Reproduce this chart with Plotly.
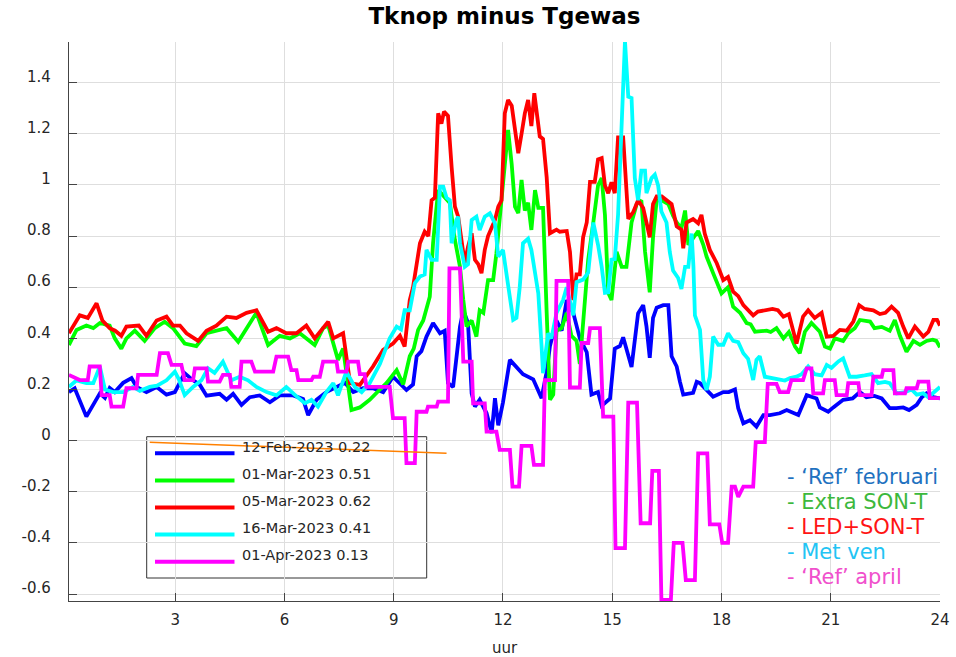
import plotly.graph_objects as go

# ---------------- data (hour of day, Tknop - Tgewas) ----------------
blue_x = [0.08,0.24,0.56,0.74,0.93,1.07,1.2,1.34,1.57,1.8,1.94,2.21,2.49,2.76,2.99,3.26,3.49,3.67,3.86,4.22,4.41,4.59,4.82,5.05,5.32,5.6,5.87,6.24,6.51,6.65,6.88,7.15,7.43,7.66,7.89,8.16,8.43,8.71,8.98,9.35,9.53,9.63,9.76,9.9,10.08,10.27,10.4,10.49,10.63,10.82,10.91,11.04,11.14,11.23,11.36,11.55,11.69,11.78,11.87,12.0,12.19,12.37,12.55,12.83,13.06,13.2,13.29,13.47,13.61,13.75,13.93,14.11,14.3,14.43,14.61,14.71,14.94,15.07,15.21,15.3,15.53,15.71,15.85,15.94,16.03,16.12,16.22,16.4,16.54,16.63,16.77,16.86,16.95,17.22,17.32,17.41,17.59,17.77,18.05,18.2,18.37,18.46,18.6,18.78,18.96,19.15,19.33,19.6,19.79,19.95,20.11,20.34,20.61,20.7,20.93,21.07,21.34,21.6,21.8,21.98,22.2,22.4,22.62,22.8,22.99,23.15,23.36,23.5,23.63,23.82,24.0]
blue_y = [0.19,0.205,0.094,0.14,0.185,0.167,0.206,0.19,0.226,0.245,0.21,0.19,0.21,0.18,0.19,0.264,0.236,0.22,0.176,0.183,0.16,0.183,0.14,0.17,0.177,0.15,0.177,0.177,0.163,0.10,0.16,0.19,0.21,0.226,0.19,0.205,0.205,0.19,0.25,0.198,0.22,0.33,0.35,0.407,0.46,0.42,0.43,0.225,0.21,0.446,0.51,0.46,0.185,0.133,0.16,0.107,0.03,0.166,0.06,0.15,0.316,0.29,0.26,0.24,0.166,0.27,0.37,0.47,0.43,0.55,0.5,0.40,0.346,0.18,0.19,0.136,0.165,0.36,0.37,0.404,0.288,0.498,0.53,0.447,0.324,0.48,0.52,0.53,0.53,0.33,0.29,0.23,0.18,0.187,0.23,0.225,0.2,0.172,0.19,0.19,0.2,0.127,0.068,0.08,0.055,0.1,0.1,0.107,0.12,0.11,0.1,0.178,0.165,0.13,0.113,0.13,0.16,0.165,0.19,0.17,0.175,0.165,0.127,0.127,0.13,0.12,0.14,0.17,0.185,0.17,0.165]

green_x = [0.08,0.29,0.56,0.75,0.93,1.2,1.34,1.52,1.66,1.89,2.16,2.44,2.71,2.94,3.26,3.58,3.86,4.13,4.41,4.73,4.96,5.23,5.55,5.87,6.15,6.42,6.83,7.06,7.2,7.47,7.61,7.84,8.07,8.34,8.62,8.8,9.08,9.26,9.44,9.55,9.67,9.81,9.99,10.08,10.22,10.36,10.54,10.68,10.82,10.91,11.0,11.14,11.27,11.36,11.46,11.59,11.73,11.82,11.91,12.05,12.14,12.24,12.33,12.42,12.51,12.6,12.69,12.78,12.88,12.97,13.1,13.2,13.29,13.38,13.47,13.61,13.75,13.88,14.02,14.11,14.2,14.34,14.48,14.61,14.71,14.8,14.89,14.98,15.12,15.26,15.39,15.53,15.67,15.8,15.9,15.99,16.03,16.12,16.22,16.36,16.54,16.67,16.77,16.9,17.0,17.09,17.22,17.36,17.5,17.59,17.77,18.0,18.18,18.32,18.51,18.69,18.8,18.92,19.24,19.35,19.51,19.7,19.85,20.02,20.15,20.29,20.47,20.7,20.84,20.98,21.11,21.34,21.48,21.66,21.8,22.08,22.2,22.4,22.62,22.76,22.9,23.08,23.27,23.45,23.63,23.8,23.9,24.0]
green_y = [0.374,0.433,0.45,0.44,0.46,0.45,0.40,0.36,0.40,0.43,0.39,0.44,0.465,0.44,0.38,0.37,0.42,0.43,0.44,0.387,0.44,0.50,0.374,0.41,0.40,0.42,0.374,0.44,0.45,0.316,0.36,0.12,0.13,0.16,0.2,0.225,0.276,0.22,0.33,0.36,0.433,0.47,0.563,0.772,0.98,0.96,0.93,0.785,0.68,0.55,0.446,0.47,0.407,0.51,0.5,0.628,0.628,0.733,0.863,1.07,1.215,1.08,0.915,0.89,1.02,0.90,0.93,0.824,0.98,0.91,0.91,0.5,0.16,0.18,0.43,0.44,0.5,0.41,0.39,0.30,0.476,0.708,0.853,0.998,1.027,0.883,0.578,0.55,0.738,0.68,0.68,0.853,0.925,0.94,0.74,0.607,0.58,0.795,0.94,0.94,0.925,0.88,0.853,0.83,0.90,0.766,0.795,0.82,0.766,0.72,0.655,0.576,0.6,0.524,0.50,0.46,0.455,0.426,0.43,0.425,0.44,0.40,0.425,0.368,0.342,0.426,0.46,0.426,0.368,0.36,0.40,0.39,0.42,0.44,0.472,0.466,0.44,0.445,0.43,0.472,0.41,0.348,0.39,0.375,0.39,0.395,0.39,0.365]

red_x = [0.08,0.2,0.38,0.6,0.84,1.0,1.2,1.35,1.52,1.66,2.0,2.21,2.49,2.76,2.94,3.13,3.31,3.63,3.86,4.13,4.41,4.68,4.96,5.23,5.55,5.78,6.05,6.33,6.6,6.83,7.06,7.2,7.34,7.61,7.8,8.07,8.43,8.71,8.98,9.17,9.3,9.44,9.53,9.63,9.72,9.85,9.95,10.04,10.13,10.22,10.31,10.38,10.49,10.59,10.68,10.77,10.86,10.95,11.04,11.14,11.23,11.32,11.41,11.5,11.59,11.69,11.78,11.87,11.96,12.05,12.14,12.24,12.33,12.42,12.51,12.6,12.69,12.78,12.86,12.93,13.01,13.1,13.2,13.29,13.47,13.56,13.75,13.84,13.93,14.02,14.11,14.2,14.3,14.39,14.52,14.61,14.71,14.8,14.89,14.98,15.07,15.16,15.3,15.44,15.58,15.71,15.85,15.94,16.03,16.12,16.22,16.36,16.49,16.63,16.77,16.9,16.95,17.04,17.22,17.36,17.45,17.54,17.68,17.87,18.05,18.18,18.32,18.46,18.6,18.73,18.87,19.0,19.24,19.4,19.55,19.7,19.85,20.06,20.24,20.38,20.56,20.75,20.89,21.07,21.25,21.44,21.62,21.78,21.93,22.17,22.35,22.5,22.67,22.85,22.99,23.13,23.31,23.54,23.68,23.82,23.92,24.0]
red_y = [0.42,0.45,0.49,0.48,0.537,0.47,0.44,0.43,0.41,0.446,0.45,0.41,0.47,0.485,0.45,0.45,0.42,0.39,0.43,0.45,0.485,0.48,0.50,0.51,0.426,0.44,0.42,0.42,0.45,0.40,0.44,0.465,0.40,0.42,0.225,0.218,0.29,0.355,0.38,0.41,0.368,0.55,0.60,0.68,0.772,0.817,0.8,0.94,0.95,1.28,1.24,1.287,1.27,1.07,0.915,0.876,0.785,0.694,0.759,0.811,0.707,0.69,0.655,0.746,0.8,0.837,0.863,0.915,0.94,1.28,1.332,1.31,1.228,1.124,1.2,1.28,1.332,1.23,1.359,1.28,1.19,1.18,1.03,0.811,0.825,0.817,0.82,0.738,0.55,0.65,0.65,0.795,0.853,1.012,1.012,1.1,1.105,0.998,0.968,1.01,0.968,1.186,1.186,0.867,0.895,0.94,0.91,0.853,0.795,0.925,0.955,0.955,0.94,0.925,0.838,0.825,0.752,0.853,0.867,0.85,0.883,0.81,0.746,0.694,0.628,0.64,0.583,0.565,0.53,0.512,0.49,0.505,0.51,0.515,0.51,0.485,0.495,0.38,0.485,0.51,0.48,0.5,0.407,0.41,0.433,0.43,0.466,0.53,0.515,0.51,0.495,0.5,0.524,0.50,0.446,0.40,0.446,0.407,0.425,0.472,0.472,0.45]

cyan_x = [0.08,0.29,0.56,0.75,0.93,1.07,1.29,1.57,1.84,2.03,2.3,2.5,2.76,2.99,3.1,3.26,3.49,3.72,3.9,4.08,4.31,4.54,4.77,5.0,5.23,5.51,5.78,6.05,6.3,6.56,6.74,6.92,7.15,7.34,7.47,7.7,7.93,8.12,8.34,8.62,8.89,9.08,9.2,9.3,9.44,9.58,9.72,9.85,9.9,10.04,10.18,10.27,10.36,10.45,10.54,10.59,10.72,10.77,10.82,10.95,11.04,11.14,11.27,11.36,11.5,11.64,11.78,11.87,12.0,12.14,12.28,12.37,12.46,12.55,12.69,12.78,12.88,12.97,13.06,13.1,13.24,13.33,13.47,13.65,13.75,13.93,14.02,14.2,14.34,14.39,14.48,14.61,14.71,14.8,14.89,14.98,15.07,15.16,15.26,15.35,15.44,15.53,15.62,15.71,15.8,15.9,15.94,16.08,16.17,16.26,16.35,16.49,16.58,16.67,16.81,16.9,17.0,17.09,17.18,17.23,17.27,17.41,17.5,17.59,17.68,17.77,17.91,18.05,18.18,18.32,18.46,18.6,18.73,18.87,18.96,19.05,19.19,19.37,19.56,19.74,19.88,20.06,20.2,20.38,20.56,20.75,20.89,21.02,21.21,21.34,21.52,21.71,21.93,22.12,22.3,22.49,22.62,22.81,23.04,23.22,23.36,23.54,23.68,23.86,24.0]
cyan_y = [0.21,0.236,0.225,0.225,0.29,0.20,0.19,0.19,0.21,0.195,0.21,0.215,0.236,0.27,0.24,0.178,0.21,0.236,0.283,0.265,0.309,0.236,0.25,0.236,0.21,0.19,0.177,0.21,0.177,0.146,0.16,0.133,0.19,0.225,0.177,0.27,0.21,0.19,0.225,0.3,0.40,0.446,0.435,0.51,0.51,0.616,0.642,0.65,0.746,0.707,0.707,0.993,0.993,0.95,0.94,0.772,0.863,0.876,0.772,0.68,0.69,0.863,0.876,0.824,0.876,0.889,0.85,0.72,0.746,0.60,0.472,0.48,0.60,0.772,0.79,0.746,0.655,0.576,0.368,0.264,0.42,0.40,0.5,0.55,0.6,0.49,0.62,0.63,0.657,0.738,0.853,0.766,0.68,0.578,0.58,0.708,0.71,0.883,1.244,1.563,1.345,1.34,1.027,0.94,1.056,1.056,0.968,1.027,1.04,0.998,0.896,0.853,0.738,0.665,0.636,0.593,0.68,0.68,0.81,0.68,0.49,0.433,0.237,0.198,0.25,0.407,0.375,0.375,0.42,0.39,0.385,0.342,0.32,0.237,0.316,0.33,0.25,0.245,0.237,0.235,0.245,0.25,0.26,0.29,0.26,0.255,0.296,0.285,0.31,0.322,0.25,0.25,0.255,0.26,0.225,0.23,0.225,0.185,0.19,0.2,0.18,0.185,0.17,0.195,0.21]

magenta_x = [0.08,0.38,0.6,0.65,0.93,0.98,1.2,1.25,1.57,1.66,1.94,1.98,2.49,2.58,2.8,2.9,3.17,3.26,3.49,3.54,3.86,3.9,4.22,4.31,4.5,4.54,4.77,4.82,5.09,5.19,5.69,5.78,6.1,6.19,6.33,6.38,6.74,6.79,6.97,7.06,7.43,7.47,7.7,7.75,8.02,8.07,8.2,8.25,8.89,8.98,9.3,9.35,9.58,9.63,9.9,9.94,10.18,10.22,10.49,10.53,10.82,10.91,11.14,11.18,11.5,11.55,11.82,11.91,12.19,12.26,12.44,12.51,12.78,12.85,13.1,13.15,13.43,13.47,13.79,13.84,14.11,14.16,14.34,14.39,14.66,14.75,15.03,15.09,15.35,15.44,15.68,15.78,16.04,16.1,16.28,16.35,16.61,16.69,16.93,17.02,17.27,17.36,17.61,17.68,17.94,18.02,18.18,18.28,18.37,18.46,18.6,18.87,18.94,19.19,19.27,19.51,19.6,19.83,19.92,20.24,20.34,20.47,20.52,20.79,20.84,21.11,21.16,21.44,21.48,21.76,21.8,22.12,22.17,22.4,22.44,22.72,22.76,23.04,23.08,23.36,23.41,23.68,23.72,24.0]
magenta_y = [0.257,0.237,0.237,0.29,0.29,0.178,0.178,0.133,0.133,0.205,0.205,0.257,0.257,0.342,0.342,0.296,0.296,0.237,0.237,0.283,0.283,0.231,0.231,0.257,0.257,0.21,0.21,0.309,0.309,0.27,0.27,0.329,0.329,0.276,0.276,0.237,0.237,0.25,0.25,0.309,0.309,0.27,0.27,0.309,0.309,0.26,0.26,0.21,0.21,0.088,0.088,-0.088,-0.088,0.113,0.113,0.133,0.133,0.153,0.153,0.674,0.674,0.309,0.309,0.146,0.146,0.035,0.035,-0.036,-0.036,-0.18,-0.18,-0.02,-0.02,-0.095,-0.095,0.237,0.237,0.625,0.625,0.208,0.208,0.382,0.382,0.44,0.44,0.094,0.094,-0.42,-0.42,0.149,0.149,-0.323,-0.323,-0.118,-0.118,-0.623,-0.623,-0.40,-0.40,-0.545,-0.545,-0.05,-0.05,-0.327,-0.327,-0.40,-0.40,-0.18,-0.18,-0.22,-0.18,-0.18,-0.006,-0.006,0.222,0.222,0.19,0.19,0.237,0.237,0.283,0.283,0.185,0.185,0.237,0.237,0.178,0.178,0.225,0.225,0.178,0.178,0.25,0.25,0.276,0.276,0.185,0.185,0.205,0.205,0.231,0.231,0.166,0.166]

orange_x = [2.30, 10.45]
orange_y = [-0.006, -0.049]

series_colors = ["#0000FF", "#00FF00", "#FF0000", "#00FFFF", "#FF00FF"]
legend_labels = ["12-Feb-2023 0.22", "01-Mar-2023 0.51", "05-Mar-2023 0.62",
                 "16-Mar-2023 0.41", "01-Apr-2023 0.13"]
note_labels = ["- \u2018Ref\u2019 februari", "- Extra SON-T", "- LED+SON-T",
               "- Met ven", "- \u2018Ref\u2019 april"]
note_colors = ["#1f72c0", "#3cb83c", "#ff1414", "#22c4f4", "#f050cc"]

x_tickvals = [3, 6, 9, 12, 15, 18, 21, 24]
x_ticktext = ["3", "6", "9", "12", "15", "18", "21", "24"]
y_tickvals = [-0.6, -0.4, -0.2, 0, 0.2, 0.4, 0.6, 0.8, 1.0, 1.2, 1.4]
y_ticktext = ["-0.6", "-0.4", "-0.2", "0", "0.2", "0.4", "0.6", "0.8", "1", "1.2", "1.4"]

# ---------------- figure ----------------
W, H = 956, 657
ML, MR, MT, MB = 69, 16, 42, 56
PW, PH = W - ML - MR, H - MT - MB

def px_x(x):
    return (x - ML) / PW

def px_y(y):
    return (H - MB - y) / PH

fig = go.Figure()
all_x = [blue_x, green_x, red_x, cyan_x, magenta_x]
all_y = [blue_y, green_y, red_y, cyan_y, magenta_y]
for xs, ys, c, lab in zip(all_x, all_y, series_colors, legend_labels):
    fig.add_trace(go.Scatter(x=xs, y=ys, mode="lines", name=lab,
                             line=dict(color=c, width=3.8),
                             showlegend=False, hoverinfo="skip"))
fig.add_trace(go.Scatter(x=orange_x, y=orange_y, mode="lines",
                         line=dict(color="#ff8000", width=1.5),
                         showlegend=False, hoverinfo="skip"))

shapes = []
annotations = []
# manual legend box
shapes.append(dict(type="rect", xref="paper", yref="paper",
                   x0=px_x(146.7), x1=px_x(426.7), y0=px_y(578), y1=px_y(436.7),
                   line=dict(color="#333333", width=1), fillcolor="rgba(0,0,0,0)",
                   layer="below"))
for i, (lab, c) in enumerate(zip(legend_labels, series_colors)):
    ly = 453.3 + 27.1 * i
    shapes.append(dict(type="line", xref="paper", yref="paper",
                       x0=px_x(155), x1=px_x(234.5), y0=px_y(ly), y1=px_y(ly),
                       line=dict(color=c, width=4)))
    annotations.append(dict(text=lab, xref="paper", yref="paper",
                            x=px_x(240), y=px_y(ly - 6.5), xanchor="left", yanchor="middle",
                            showarrow=False,
                            font=dict(family="DejaVu Sans", size=14.5, color="#262626")))
for i, (lab, c) in enumerate(zip(note_labels, note_colors)):
    ty = 477 + 25 * i
    annotations.append(dict(text=lab, xref="paper", yref="paper",
                            x=px_x(785), y=px_y(ty), xanchor="left", yanchor="middle",
                            showarrow=False,
                            font=dict(family="DejaVu Sans", size=21, color=c)))

axis_common = dict(showgrid=True, gridcolor="#dedede", gridwidth=1,
                   showline=True, linecolor="#444444", linewidth=1.2,
                   ticks="inside", ticklen=8, tickcolor="#444444", tickwidth=1.2,
                   zeroline=False, mirror=False, automargin=False,
                   tickfont=dict(family="DejaVu Sans", size=15, color="#262626"))

fig.update_layout(
    template="none",
    width=W, height=H,
    margin=dict(l=ML, r=MR, t=MT, b=MB, pad=0, autoexpand=False),
    paper_bgcolor="white", plot_bgcolor="white",
    title=dict(text="Tknop minus Tgewas", x=0.5, xref="paper", xanchor="center",
               y=1 - 16 / H, yref="container", yanchor="middle",
               font=dict(family="DejaVu Sans", size=23, color="black", weight="bold")),
    xaxis=dict(range=[1 / 12, 24], tickvals=x_tickvals, ticktext=x_ticktext,
               ticklabelstandoff=5,
               title=dict(text="uur", standoff=17,
                          font=dict(family="DejaVu Sans", size=15, color="#262626")),
               **axis_common),
    yaxis=dict(range=[-0.627, 1.559], tickvals=y_tickvals, ticktext=y_ticktext,
               ticklabelstandoff=14, ticklabelshift=-6,
               **axis_common),
    shapes=shapes, annotations=annotations,
    showlegend=False,
)

fig.write_html("out.html")
